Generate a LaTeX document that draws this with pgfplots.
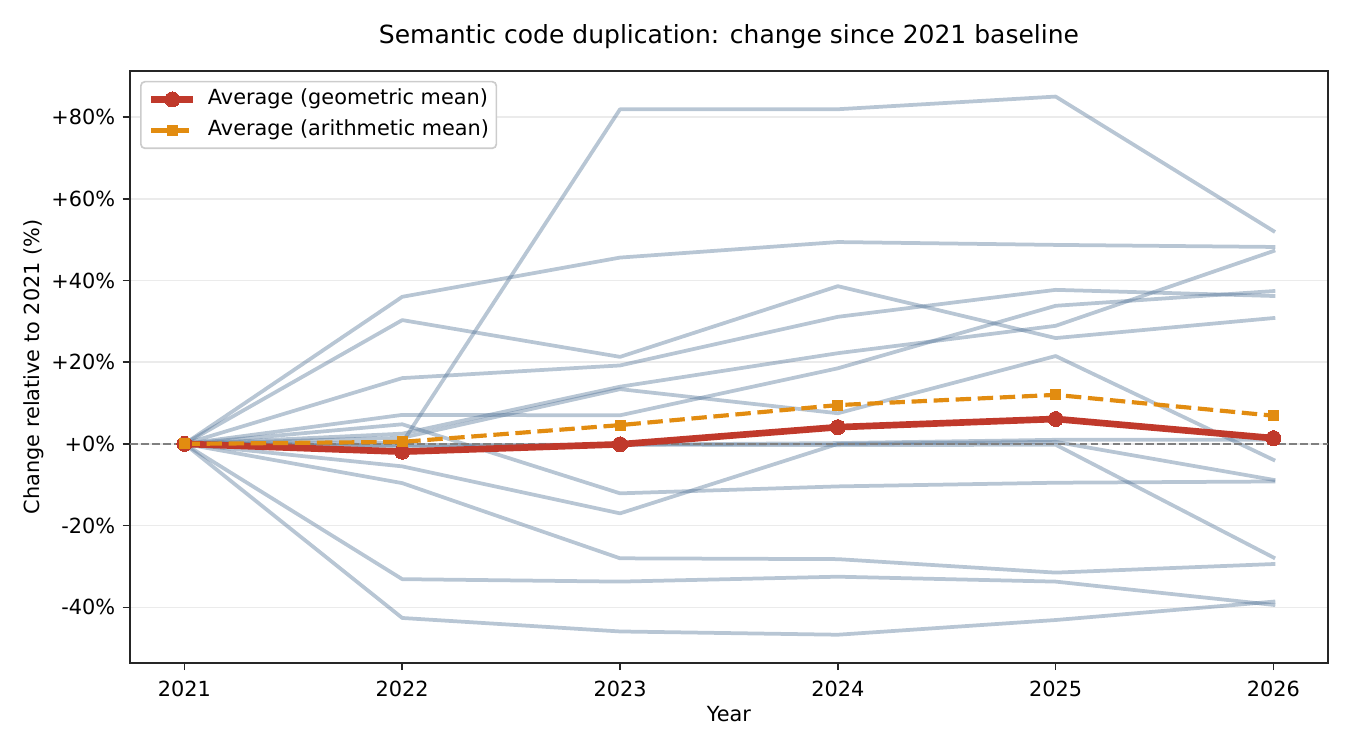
\documentclass[border=0pt]{standalone}
\usepackage{fontspec}
\setmainfont{DejaVu Sans}
\usepackage{pgfplots}
\usepackage{pgfplotstable}
\pgfplotsset{compat=1.18}

\definecolor{series}{RGB}{78,112,148}
\definecolor{geo}{RGB}{192,57,43}
\definecolor{arith}{RGB}{226,140,16}
\definecolor{gridc}{RGB}{235,235,235}
\definecolor{framec}{RGB}{38,38,38}

% Change relative to 2021 (%) for each individual project
\pgfplotstableread{
year s1   s2   s3   s4   s5   s6   s7   s8    s9    s10   s11   s12   s13  s14
2021 0    0    0    0    0    0    0    0     0     0     0     0     0    0
2022 16.1 30.3 36.0 0.3  2.5  1.5  7.1  4.8   -5.5  -9.6  -33.1 -42.6 -0.3 -0.8
2023 19.2 21.3 45.6 81.9 14.0 13.4 7.0  -12.1 -17.0 -28.0 -33.7 -45.9 -0.2 -0.2
2024 31.1 38.6 49.4 81.9 22.2 7.5  18.5 -10.4 0.0   -28.2 -32.5 -46.7 0.2  -0.3
2025 37.7 25.9 48.7 85.0 28.9 21.5 33.8 -9.5  0.5   -31.5 -33.7 -43.1 1.0  -0.2
2026 36.2 30.8 48.2 52.1 47.2 -3.9 37.4 -9.2  -8.8  -29.4 -39.4 -38.6 1.0  -27.8
}\dup

% Averages across projects
\pgfplotstableread{
year geo  arith
2021 0.0  0.0
2022 -1.9 0.5
2023 -0.1 4.6
2024 4.1  9.5
2025 6.1  12.0
2026 1.4  6.9
}\avg

\begin{document}
\begin{tikzpicture}
\useasboundingbox (0,0) rectangle (648pt,360pt);
\begin{axis}[
  at={(62.4pt,41.8pt)}, anchor=south west,
  scale only axis, width=575pt, height=284.2pt,
  xmin=2020.75, xmax=2026.25, ymin=-53.6, ymax=91.3,
  xtick={2021,2022,2023,2024,2025,2026},
  xticklabels={2021,2022,2023,2024,2025,2026},
  ytick={-40,-20,0,20,40,60,80},
  yticklabels={-40\%,-20\%,+0\%,+20\%,+40\%,+60\%,+80\%},
  tick align=outside, major tick length=3.5pt,
  xtick pos=bottom, ytick pos=left,
  tick style={framec, line width=0.8pt},
  axis line style={framec, line width=0.8pt},
  ymajorgrids, major grid style={gridc, line width=0.8pt},
  ticklabel style={font=\fontsize{10}{12}\selectfont, text=black},
  xticklabel style={anchor=base, inner sep=0pt, yshift=-12.5pt},
  yticklabel style={anchor=east, inner sep=0pt, xshift=-3.4pt},
  legend cell align=left,
  legend style={at={(0,1)}, anchor=north west, xshift=4.8pt, yshift=-4.8pt,
    draw=black!20, line width=0.8pt, rounded corners=2pt, fill=white,
    font=\fontsize{10}{12}\selectfont, inner xsep=3.5pt, inner ysep=1.1pt,
    column sep=5.5pt,
    nodes={inner xsep=0pt, inner ysep=2.45pt, text height=7.5pt, text depth=2.5pt}},
  legend image code/.code={\draw[mark repeat=2,mark phase=2] plot coordinates {(0pt,0pt) (10pt,0pt) (20pt,0pt)};},
]
\pgfplotsinvokeforeach{1,...,14}{
  \addplot[series, draw opacity=0.4, line width=1.8pt, line cap=rect, line join=round, forget plot]
    table[x=year, y=s#1] {\dup};
}
\addplot[black!50, line width=1pt, dash pattern=on 3.7pt off 1.6pt, forget plot]
  coordinates {(2020.75,0) (2026.25,0)};
\addplot[geo, line width=3.2pt, line join=round, mark=*, mark size=3.6pt,
  mark options={solid, fill=geo, draw=geo, line width=0pt}]
  table[x=year, y=geo] {\avg};
\addlegendentry{Average (geometric mean)}
\addplot[arith, line width=2pt, dash pattern=on 7.4pt off 3.2pt, mark=square*, mark size=2.4pt,
  mark options={solid, fill=arith, draw=arith, line width=0pt}]
  table[x=year, y=arith] {\avg};
\addlegendentry{Average (arithmetic mean)}
\end{axis}
\node[anchor=base, font=\fontsize{12}{14}\selectfont] at (349.9pt,338.9pt)
  {Semantic code duplication: change since 2021 baseline};
\node[anchor=base, font=\fontsize{10}{12}\selectfont] at (349.9pt,13.9pt) {Year};
\node[anchor=base, rotate=90, font=\fontsize{10}{12}\selectfont] at (19pt,183.9pt)
  {Change relative to 2021 (\%)};
\end{tikzpicture}
\end{document}
